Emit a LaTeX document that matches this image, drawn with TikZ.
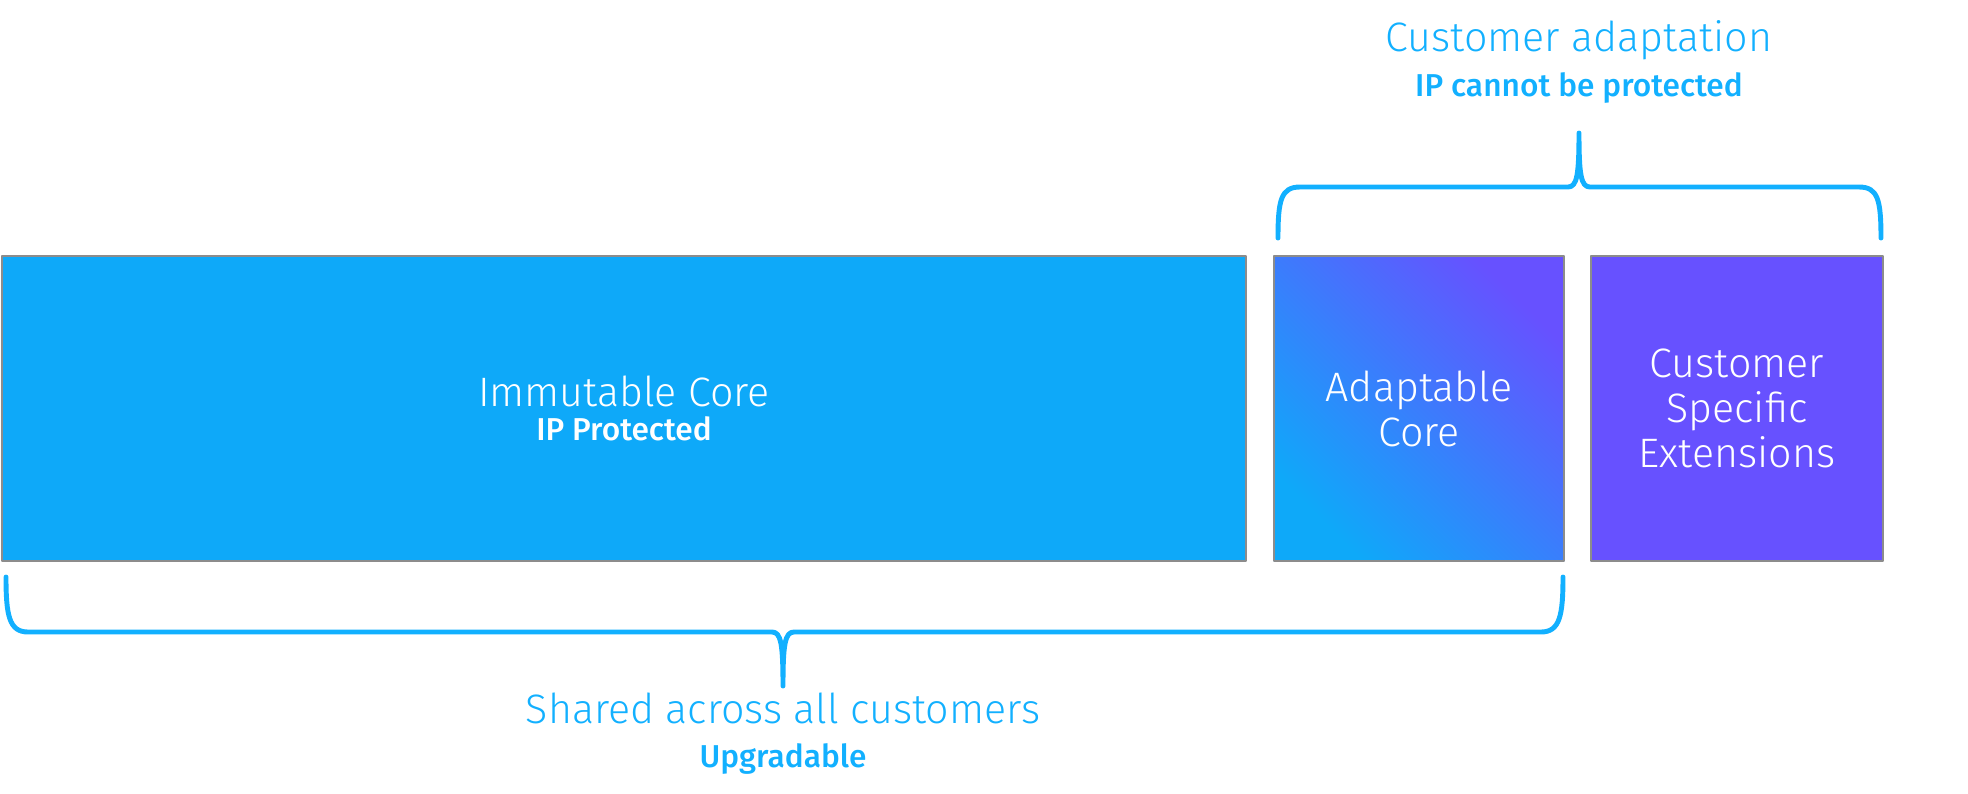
\documentclass[tikz,border=0pt]{standalone}
\usepackage{fontspec}
\setmainfont{Fira Sans}[UprightFont=* Light, BoldFont=* Medium]
\definecolor{skyblue}{HTML}{0EA9F9}
\definecolor{violetbox}{HTML}{6751FF}
\definecolor{bracecol}{HTML}{12B0FF}
\newcommand\bigfont{\fontsize{11.7}{12.8}\selectfont}
\newcommand\subfont{\fontsize{9}{10}\selectfont\bfseries}
\tikzset{
  box/.style={draw=gray!90, line width=0.4pt, inner sep=0pt, minimum height=3.05cm, text=white, align=center},
  subtext/.style={font=\subfont},
  curly/.style={draw=bracecol, line width=1.4pt}
}
\begin{document}
\begin{tikzpicture}[x=0.01cm, y=-0.01cm, line join=round, line cap=round, font=\bigfont]
\useasboundingbox (0,0) rectangle (1968,793);
% boxes
\node[box, fill=skyblue, minimum width=12.43cm] (immut) at (624,408.5)
  {Immutable Core\\[-3pt]{\subfont IP Protected}};
\node[box, top color=violetbox, bottom color=skyblue, shading angle=-45, minimum width=2.9cm] (adapt) at (1419,408.5)
  {Adaptable\\Core};
\node[box, fill=violetbox, minimum width=2.92cm] (ext) at (1737,408.5)
  {Customer\\Specific\\Extensions};
% braces
\draw[curly] (1278,238) .. controls (1278,200) and (1281,187) .. (1300,187) -- (1568,187)
  .. controls (1577,187) and (1579,175) .. (1579,133) .. controls (1579,175) and (1581,187) .. (1590,187)
  -- (1859,187) .. controls (1878,187) and (1881,200) .. (1881,238);
\draw[curly] (6,577) .. controls (6,615) and (9,632) .. (28,632) -- (772,632)
  .. controls (781,632) and (783,644) .. (783,686) .. controls (783,644) and (785,632) .. (794,632)
  -- (1541,632) .. controls (1560,632) and (1563,615) .. (1563,577);
% labels
\node[anchor=base, text=bracecol] (adlab) at (1579,51) {Customer adaptation};
\node[anchor=base, text=bracecol, subtext] (adsub) at (1579,96) {IP cannot be protected};
\node[anchor=base, text=bracecol] (shlab) at (783,723) {Shared across all customers};
\node[anchor=base, text=bracecol, subtext] (shsub) at (783,767) {Upgradable};
\end{tikzpicture}
\end{document}
